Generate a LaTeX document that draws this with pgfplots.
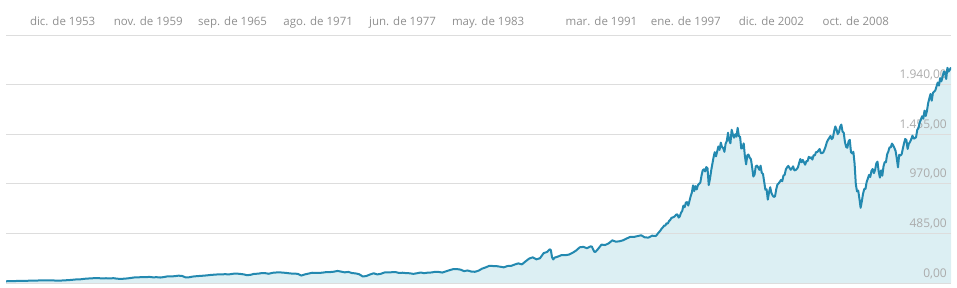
\documentclass[border=0pt]{standalone}
\usepackage{pgfplots}
\pgfplotsset{compat=1.18}
\usepackage{pgfplotstable}
\usepackage{fontspec}
\setmainfont{Open Sans}
\definecolor{linec}{HTML}{2389B0}
\definecolor{fillc}{HTML}{DCEFF3}
\definecolor{gridc}{HTML}{DDDDDD}
\definecolor{txtc}{HTML}{8F8F8F}
\definecolor{ytxt}{HTML}{ABABAB}
\pgfplotsset{layers/mylayers/.define layer set={axis background,axis grid,axis ticks,axis lines,axis tick labels,main,axis descriptions,axis foreground}{}}

\pgfplotstableread{
x y
1950.000 17.05
1950.167 17.29
1950.417 17.69
1950.667 19.45
1950.917 20.41
1951.167 21.48
1951.417 20.96
1951.667 23.26
1951.917 23.77
1952.167 24.37
1952.417 24.96
1952.667 24.54
1952.917 26.57
1953.167 25.29
1953.417 24.14
1953.667 23.35
1953.917 24.81
1954.167 26.94
1954.417 29.21
1954.667 32.31
1954.917 35.98
1955.167 36.58
1955.417 41.03
1955.667 43.67
1955.917 45.48
1956.167 48.48
1956.417 46.97
1956.667 45.35
1956.917 46.67
1957.167 44.11
1957.417 47.37
1957.667 42.42
1957.917 39.99
1958.167 42.10
1958.417 45.24
1958.667 50.06
1958.917 55.21
1959.167 55.44
1959.417 58.47
1959.667 56.88
1959.917 59.89
1960.167 55.34
1960.417 56.92
1960.667 53.52
1960.917 58.11
1961.167 65.06
1961.417 64.64
1961.667 66.73
1961.917 71.55
1962.167 69.55
1962.417 54.75
1962.667 56.27
1962.917 63.10
1963.167 66.57
1963.417 69.37
1963.667 71.70
1963.917 75.02
1964.167 78.98
1964.417 81.69
1964.667 84.18
1964.917 84.75
1965.167 86.16
1965.417 84.12
1965.667 89.96
1965.917 92.43
1966.167 89.23
1966.417 84.74
1966.667 76.56
1966.917 80.33
1967.167 90.20
1967.417 90.64
1967.667 96.71
1967.917 96.47
1968.167 90.20
1968.417 99.58
1968.667 102.67
1968.917 103.86
1969.167 101.51
1969.417 97.71
1969.667 93.12
1969.917 92.06
1970.167 89.63
1970.417 72.72
1970.667 84.21
1970.917 92.15
1971.167 100.31
1971.417 99.70
1971.667 98.34
1971.917 102.09
1972.167 107.20
1972.417 107.14
1972.667 110.55
1972.917 118.05
1973.167 111.52
1973.417 104.26
1973.667 108.43
1973.917 97.55
1974.167 93.98
1974.417 86.00
1974.667 63.54
1974.917 68.56
1975.167 83.36
1975.417 95.19
1975.667 83.87
1975.917 90.19
1976.167 102.77
1976.417 104.28
1976.667 105.24
1976.917 107.46
1977.167 98.42
1977.417 100.48
1977.667 96.53
1977.917 95.10
1978.167 89.21
1978.417 95.53
1978.667 102.54
1978.917 96.11
1979.167 101.59
1979.417 102.91
1979.667 109.32
1979.917 107.94
1980.167 102.09
1980.417 114.24
1980.667 125.46
1980.917 135.76
1981.167 136.00
1981.417 131.21
1981.667 116.18
1981.917 122.55
1982.167 111.96
1982.417 109.61
1982.667 120.42
1982.917 140.64
1983.167 152.96
1983.417 168.11
1983.667 166.07
1983.917 164.93
1984.167 159.18
1984.417 153.18
1984.667 166.10
1984.917 167.24
1985.167 180.66
1985.417 191.85
1985.667 182.08
1985.917 211.28
1986.167 238.90
1986.417 250.84
1986.667 231.32
1986.917 242.17
1987.167 291.70
1987.417 304.00
1987.583 329.80
1987.667 321.83
1987.750 251.79
1987.833 230.30
1987.917 247.08
1988.167 258.89
1988.417 273.50
1988.667 271.91
1988.917 277.72
1989.167 294.87
1989.417 317.98
1989.667 349.15
1989.917 353.40
1990.167 339.94
1990.417 358.02
1990.500 356.15
1990.667 306.05
1990.750 304.00
1990.917 330.22
1991.167 375.22
1991.417 371.16
1991.667 387.86
1991.917 417.09
1992.167 403.69
1992.417 408.14
1992.667 417.80
1992.917 435.71
1993.167 451.67
1993.417 450.53
1993.667 458.93
1993.917 466.45
1994.167 445.77
1994.417 444.27
1994.667 462.69
1994.917 459.27
1995.000 470.42
1995.083 487.39
1995.167 500.71
1995.250 514.71
1995.333 533.40
1995.417 544.75
1995.500 562.06
1995.583 561.88
1995.667 584.41
1995.750 581.50
1995.833 605.37
1995.917 615.93
1996.000 636.02
1996.083 640.43
1996.167 645.50
1996.250 654.17
1996.333 669.12
1996.417 670.63
1996.500 639.95
1996.583 651.99
1996.667 687.33
1996.750 705.27
1996.833 757.02
1996.917 740.74
1997.000 786.16
1997.083 790.82
1997.167 757.12
1997.250 801.34
1997.333 848.28
1997.417 885.14
1997.500 954.29
1997.583 899.47
1997.667 947.28
1997.750 914.62
1997.833 955.40
1997.917 970.43
1998.000 980.28
1998.083 1049.34
1998.167 1101.75
1998.250 1111.75
1998.333 1090.82
1998.417 1133.84
1998.500 1120.67
1998.583 957.28
1998.667 1017.01
1998.750 1098.67
1998.833 1163.63
1998.917 1229.23
1999.000 1279.64
1999.083 1238.33
1999.167 1286.37
1999.250 1335.18
1999.333 1301.84
1999.417 1372.71
1999.500 1328.72
1999.583 1320.41
1999.667 1282.71
1999.750 1362.93
1999.833 1388.91
1999.917 1469.25
2000.000 1394.46
2000.083 1366.42
2000.167 1498.58
2000.250 1452.43
2000.333 1420.60
2000.417 1454.60
2000.500 1430.83
2000.583 1517.68
2000.667 1436.51
2000.750 1429.40
2000.833 1314.95
2000.917 1320.28
2001.000 1366.01
2001.083 1239.94
2001.167 1160.33
2001.250 1249.46
2001.333 1255.82
2001.417 1224.42
2001.500 1211.23
2001.583 1133.58
2001.667 1040.94
2001.750 1059.78
2001.833 1139.45
2001.917 1148.08
2002.000 1130.20
2002.083 1106.73
2002.167 1147.39
2002.250 1076.92
2002.333 1067.14
2002.417 989.82
2002.500 911.62
2002.583 916.07
2002.667 815.28
2002.750 885.76
2002.833 936.31
2002.917 879.82
2003.000 855.70
2003.083 841.15
2003.167 848.18
2003.250 916.92
2003.333 963.59
2003.417 974.50
2003.500 990.31
2003.583 1008.01
2003.667 995.97
2003.750 1050.71
2003.833 1058.20
2003.917 1111.92
2004.000 1131.13
2004.083 1144.94
2004.167 1126.21
2004.250 1107.30
2004.333 1120.68
2004.417 1140.84
2004.500 1101.72
2004.583 1104.24
2004.667 1114.58
2004.750 1130.20
2004.833 1173.82
2004.917 1211.92
2005.000 1181.27
2005.083 1203.60
2005.167 1180.59
2005.250 1156.85
2005.333 1191.50
2005.417 1191.33
2005.500 1234.18
2005.583 1220.33
2005.667 1228.81
2005.750 1207.01
2005.833 1249.48
2005.917 1248.29
2006.000 1280.08
2006.083 1280.66
2006.167 1294.83
2006.250 1310.61
2006.333 1270.09
2006.417 1270.20
2006.500 1276.66
2006.583 1303.82
2006.667 1335.85
2006.750 1377.94
2006.833 1400.63
2006.917 1418.30
2007.000 1438.24
2007.083 1406.82
2007.167 1420.86
2007.250 1482.37
2007.333 1530.62
2007.417 1503.35
2007.500 1455.27
2007.583 1473.99
2007.667 1526.75
2007.750 1549.38
2007.833 1481.14
2007.917 1468.36
2008.000 1378.55
2008.083 1330.63
2008.167 1322.70
2008.250 1385.59
2008.333 1400.38
2008.417 1280.00
2008.500 1267.38
2008.583 1282.83
2008.667 1166.36
2008.750 968.75
2008.833 896.24
2008.917 903.25
2009.000 825.88
2009.083 735.09
2009.167 797.87
2009.250 872.81
2009.333 919.14
2009.417 919.32
2009.500 987.48
2009.583 1020.62
2009.667 1057.08
2009.750 1036.19
2009.833 1095.63
2009.917 1115.10
2010.000 1073.87
2010.083 1104.49
2010.167 1169.43
2010.250 1186.69
2010.333 1089.41
2010.417 1030.71
2010.500 1101.60
2010.583 1049.33
2010.667 1141.20
2010.750 1183.26
2010.833 1180.55
2010.917 1257.64
2011.000 1286.12
2011.083 1327.22
2011.167 1325.83
2011.250 1363.61
2011.333 1345.20
2011.417 1320.64
2011.500 1292.28
2011.583 1218.89
2011.667 1131.42
2011.750 1253.30
2011.833 1246.96
2011.917 1257.60
2012.000 1312.41
2012.083 1365.68
2012.167 1408.47
2012.250 1397.91
2012.333 1310.33
2012.417 1362.16
2012.500 1379.32
2012.583 1406.58
2012.667 1440.67
2012.750 1412.16
2012.833 1416.18
2012.917 1426.19
2013.000 1498.11
2013.083 1514.68
2013.167 1569.19
2013.250 1597.57
2013.333 1630.74
2013.417 1606.28
2013.500 1685.73
2013.583 1632.97
2013.667 1681.55
2013.750 1756.54
2013.833 1805.81
2013.917 1848.36
2014.000 1782.59
2014.083 1859.45
2014.167 1872.34
2014.250 1883.95
2014.333 1923.57
2014.417 1960.23
2014.500 1930.67
2014.583 2003.37
2014.667 1972.29
2014.750 2018.05
2014.833 2067.56
2014.917 2058.90
2015.000 1994.99
2015.083 2104.50
2015.167 2067.89
2015.250 2085.51
2015.333 2107.39
}\spdata

\begin{document}
\begin{tikzpicture}
\begin{axis}[
  set layers=mylayers,
  scale only axis,
  width=945pt, height=248pt,
  xmin=1950, xmax=2015.333,
  ymin=0, ymax=2425,
  axis line style={draw=none},
  major tick length=0pt,
  ytick={0,485,970,1455,1940,2425},
  yticklabels={{0,00},{485,00},{970,00},{1.455,00},{1.940,00},{}},
  yticklabel pos=right,
  yticklabel style={anchor=base east, inner sep=0pt, xshift=-4pt, yshift=6pt,
    text=ytxt, font=\fontsize{12}{14}\selectfont},
  ymajorgrids,
  grid style={gridc, line width=1pt},
  xtick={1953.917,1959.833,1965.667,1971.583,1977.417,1983.333,1991.167,1997.0,2002.917,2008.75},
  xticklabels={dic. de 1953,nov. de 1959,sep. de 1965,ago. de 1971,jun. de 1977,may. de 1983,mar. de 1991,ene. de 1997,dic. de 2002,oct. de 2008},
  xticklabel pos=upper,
  xticklabel style={anchor=base, inner sep=0pt, yshift=10pt,
    text=txtc, font=\fontsize{11.5}{14}\selectfont},
]
\addplot[fill=fillc, draw=none, on layer=axis background] table[x=x,y=y] {\spdata} \closedcycle;
\addplot[linec, line width=2pt, line join=round] table[x=x,y=y] {\spdata};
\end{axis}
\path[use as bounding box] (-6pt,-4pt) rectangle (951pt,283pt);
\end{tikzpicture}
\end{document}
